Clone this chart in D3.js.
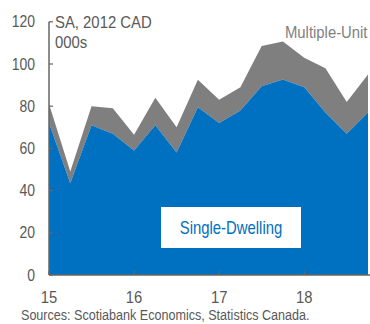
<!DOCTYPE html>
<html><head><meta charset="utf-8">
<script src="https://cdn.jsdelivr.net/npm/d3@7"></script>
<style>
html,body{margin:0;padding:0;background:#fff;}
svg{display:block;font-family:"Liberation Sans",Arial,sans-serif;}
</style></head>
<body>
<svg id="c" width="370" height="324"></svg>
<script>
// Quarterly periods 2015Q1 .. 2018Q4
const quarters = ["15Q1","15Q2","15Q3","15Q4","16Q1","16Q2","16Q3","16Q4","17Q1","17Q2","17Q3","17Q4","18Q1","18Q2","18Q3","18Q4"];
const singleDwelling = [72, 43.5, 71, 67, 59, 71, 58, 79.5, 72, 78, 89.5, 92.7, 89, 77, 67, 77];
const multipleUnit   = [9, 5.5, 9, 12, 7.5, 13, 12, 13, 11, 11, 19, 18, 14, 21, 15, 18];
const yTicks = [0, 20, 40, 60, 80, 100, 120];
const xTickYears = [2015, 2016, 2017, 2018];
const xTickLabels = ["15", "16", "17", "18"];

const svg = d3.select("#c");
const blue = "#0070C0", grey = "#7F7F7F", axisCol = "#666666", textCol = "#595959";
const sx = 0.87;

const data = quarters.map((q, i) => ({
  t: 2015 + i / 4,
  single: singleDwelling[i],
  multi: multipleUnit[i]
}));
const stack = d3.stack().keys(["single", "multi"])(data);

const x = d3.scaleLinear().domain([2015, 2018.75]).range([49, 368]);
const y = d3.scaleLinear().domain([0, 120]).range([275, 21.8]);

const area = d3.area().x(d => x(d.data.t)).y0(d => y(d[0])).y1(d => y(d[1]));

svg.append("path").datum(stack[1]).attr("d", area).attr("fill", grey);
svg.append("path").datum(stack[0]).attr("d", area).attr("fill", blue);

// Y axis
const yAxis = svg.append("g");
yAxis.append("line").attr("x1", 49).attr("x2", 49).attr("y1", y(120)).attr("y2", y(0))
  .attr("stroke", axisCol).attr("stroke-width", 1.5);
yTicks.forEach(v => {
  yAxis.append("line").attr("x1", 49).attr("x2", 53).attr("y1", y(v)).attr("y2", y(v))
    .attr("stroke", axisCol).attr("stroke-width", 1.2);
  yAxis.append("text").attr("transform", `translate(35,${y(v) + 5.5}) scale(${sx},1)`)
    .attr("text-anchor", "end").attr("font-size", 16).attr("fill", textCol).text(v);
});

// X axis
const xAxis = svg.append("g");
xAxis.append("line").attr("x1", 49).attr("x2", 370).attr("y1", y(0)).attr("y2", y(0))
  .attr("stroke", axisCol).attr("stroke-width", 1.5);
xTickYears.forEach((t, i) => {
  xAxis.append("line").attr("x1", x(t)).attr("x2", x(t)).attr("y1", y(0)).attr("y2", y(0) - 4)
    .attr("stroke", axisCol).attr("stroke-width", 1.2);
  xAxis.append("text").attr("transform", `translate(${x(t)},303) scale(${sx},1)`)
    .attr("text-anchor", "middle").attr("font-size", 17).attr("fill", textCol).text(xTickLabels[i]);
});

// Units
svg.append("text").attr("transform", `translate(55,27.5) scale(0.93,1)`)
  .attr("font-size", 16).attr("fill", textCol).text("SA, 2012 CAD");
svg.append("text").attr("transform", `translate(55,48) scale(0.93,1)`)
  .attr("font-size", 16).attr("fill", textCol).text("000s");

// Labels
svg.append("text").attr("transform", `translate(285,38) scale(0.9,1)`)
  .attr("font-size", 16.5).attr("fill", grey).text("Multiple-Unit");
svg.append("rect").attr("x", 161).attr("y", 207).attr("width", 140).attr("height", 41).attr("fill", "#fff");
svg.append("text").attr("transform", `translate(231,234) scale(0.85,1)`)
  .attr("text-anchor", "middle").attr("font-size", 17.5).attr("fill", blue).text("Single-Dwelling");

// Source
svg.append("text").attr("transform", `translate(21,320) scale(0.88,1)`)
  .attr("font-size", 14.3).attr("fill", textCol).text("Sources: Scotiabank Economics, Statistics Canada.");
</script>
</body></html>
